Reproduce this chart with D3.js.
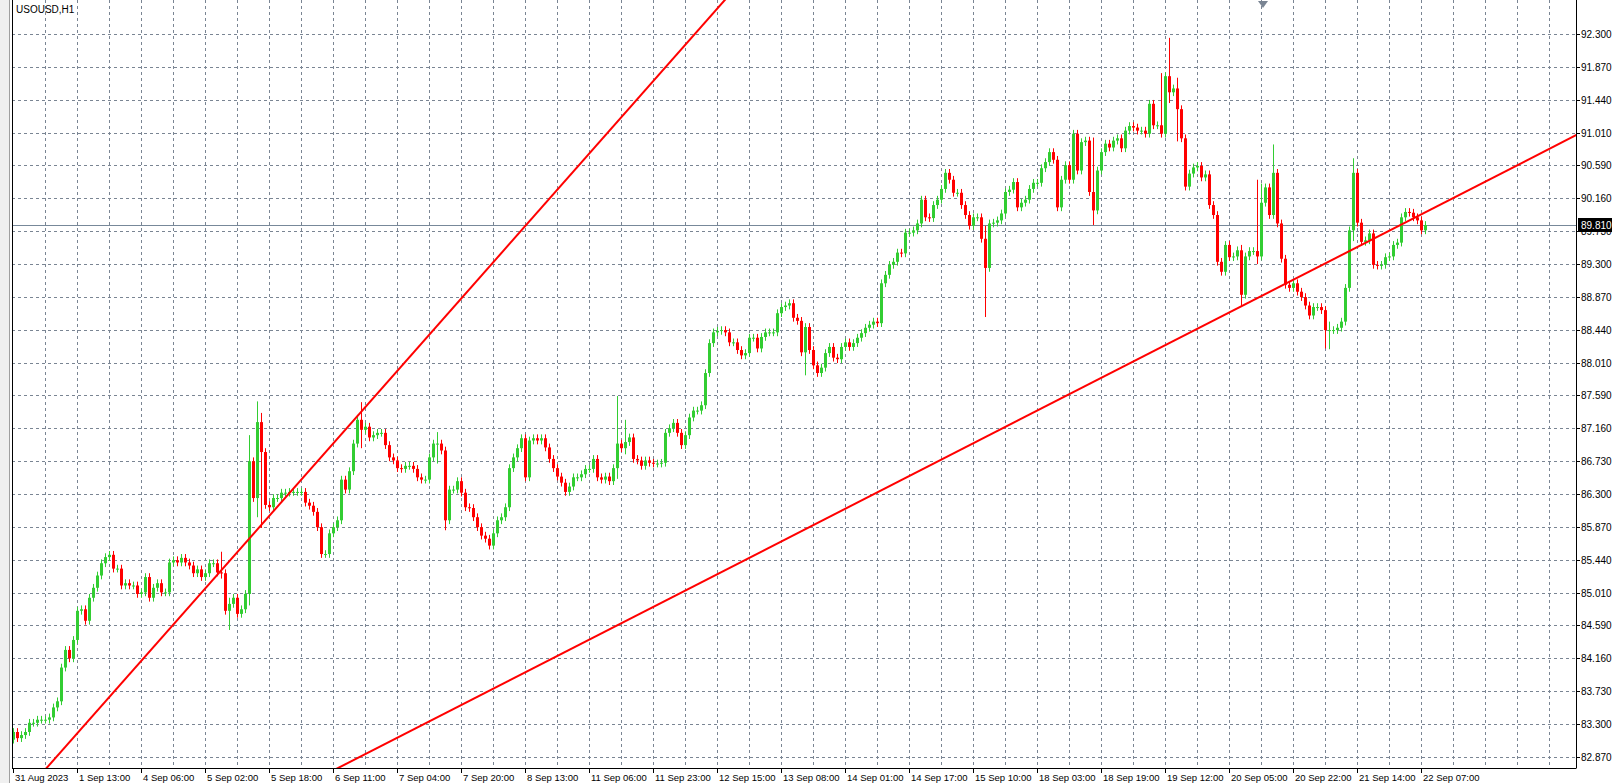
<!DOCTYPE html>
<html>
<head>
<meta charset="utf-8">
<script src="https://cdn.jsdelivr.net/npm/d3@7"></script>
<style>
  body { margin: 0; background: #fff; }
  svg text { font-family: "Liberation Sans", Arial, sans-serif; font-size: 10px; fill: #000; }
</style>
</head>
<body>
<svg id="chart" width="1613" height="783"></svg>
<script>
// hourly closes USOUSD H1 (open = previous close)
var closes = [
 83.20,83.12,83.16,83.20,83.32,83.32,83.36,83.36,83.36,83.39,
 83.52,83.60,84.04,84.27,84.16,84.40,84.78,84.80,84.65,84.95,
 85.08,85.24,85.40,85.48,85.51,85.33,85.33,85.11,85.14,85.11,
 85.11,85.00,85.02,85.22,84.95,85.08,85.14,85.02,85.02,85.41,
 85.44,85.41,85.47,85.41,85.37,85.27,85.32,85.22,85.27,85.40,
 85.40,85.28,85.27,84.78,84.87,84.95,84.74,84.80,85.00,86.73,
 86.25,87.24,86.85,86.16,86.13,86.25,86.25,86.32,86.32,86.33,
 86.33,86.33,86.33,86.19,86.15,86.07,85.87,85.52,85.52,85.79,
 85.87,85.96,86.49,86.36,86.60,86.96,87.27,87.14,87.18,87.04,
 87.07,87.10,87.10,86.94,86.78,86.74,86.64,86.63,86.67,86.67,
 86.63,86.52,86.49,86.49,86.78,86.96,86.96,86.87,85.96,86.36,
 86.36,86.47,
 86.32,86.13,86.12,86.00,85.87,85.76,85.72,85.63,85.79,85.96,
 86.00,86.13,86.64,86.78,86.90,87.03,86.52,87.00,87.03,87.00,
 87.03,86.91,86.76,86.64,86.53,86.45,86.33,86.40,86.52,86.52,
 86.56,86.63,86.63,86.76,86.52,86.49,86.53,86.47,86.64,86.96,
 86.90,86.98,87.04,86.76,86.74,86.67,86.74,86.71,86.70,86.70,
 86.71,87.10,87.16,87.23,87.10,86.94,87.07,87.30,87.39,87.39,
 87.46,87.88,88.27,88.41,88.43,88.44,88.41,88.28,88.28,88.18,
 88.11,88.14,88.34,88.34,88.20,88.35,88.41,88.41,88.41,88.66,
 88.74,88.76,88.79,88.60,88.56,88.15,88.48,88.18,87.98,87.88,
 87.95,88.14,88.22,88.08,88.06,88.22,88.28,88.22,88.27,88.34,
 88.40,88.47,88.51,88.55,88.53,
 89.05,89.16,89.29,89.33,89.45,89.44,89.71,89.71,89.74,89.83,
 90.14,89.91,89.90,90.07,90.14,90.28,90.49,90.40,90.23,90.23,
 90.07,89.94,89.80,89.91,89.91,89.63,89.25,89.83,89.84,89.87,
 89.96,90.24,90.27,90.37,90.04,90.10,90.14,90.28,90.36,90.36,
 90.55,90.63,90.76,90.66,90.04,90.40,90.59,90.40,91.00,90.52,
 90.89,90.91,90.24,90.00,90.52,90.76,90.87,90.82,90.91,90.94,
 90.81,91.04,91.10,91.08,91.04,91.04,91.00,91.39,91.11,91.11,
 91.00,91.75,91.54,91.59,91.32,90.94,90.31,90.48,90.56,90.58,
 90.43,90.47,90.07,89.94,89.33,89.20,89.55,89.39,89.40,89.48,
 88.90,89.40,89.47,89.47,89.40,90.10,90.30,89.94,90.49,89.83,
 89.37,89.03,88.99,89.05,88.94,88.87,88.76,88.63,88.74,88.74,
 88.70,88.44,88.44,88.44,88.47,88.55,88.99,89.74,90.49,89.84,
 89.59,89.61,89.70,89.29,89.28,89.29,89.39,89.40,89.55,89.58,
 89.91,89.98,89.97,89.91,89.87,89.74,89.81
];
var firstOpen = 83.10;
var wickSize = 0.05;
// bars with long shadows: index -> [high, low]
var longWicks = {
  52: [85.55, 85.20], 54: [84.95, 84.53], 59: [87.07, 84.85], 61: [87.51, 86.00],
  62: [87.36, 85.86], 87: [87.50, 86.90], 106: [87.11, 86.70], 108: [86.40, 85.83],
  151: [87.58, 86.50], 153: [87.27, 86.82], 198: [88.20, 87.85], 243: [89.80, 88.61],
  270: [90.95, 89.81], 287: [91.79, 91.00], 289: [92.25, 91.40], 291: [91.73, 90.90],
  307: [89.55, 88.75], 311: [90.40, 89.30], 312: [90.35, 89.35], 315: [90.86, 89.90],
  328: [88.60, 88.20], 329: [88.55, 88.19], 335: [90.68, 89.60]
};
var timeLabels = ["31 Aug 2023","1 Sep 13:00","4 Sep 06:00","5 Sep 02:00","5 Sep 18:00",
  "6 Sep 11:00","7 Sep 04:00","7 Sep 20:00","8 Sep 13:00","11 Sep 06:00","11 Sep 23:00",
  "12 Sep 15:00","13 Sep 08:00","14 Sep 01:00","14 Sep 17:00","15 Sep 10:00","18 Sep 03:00",
  "18 Sep 19:00","19 Sep 12:00","20 Sep 05:00","20 Sep 22:00","21 Sep 14:00","22 Sep 07:00"];
var priceTicks = [82.870,83.300,83.730,84.160,84.590,85.010,85.440,85.870,86.300,86.730,
  87.160,87.590,88.010,88.440,88.870,89.300,89.730,90.160,90.590,91.010,91.440,91.870,92.300];
var bidPrice = 89.810;
// trend lines as [bar index, price] pairs
var trend1 = [[9.75, 82.81], [120.5, 89.35]];
var trend2 = [[84.25, 82.81], [390.75, 90.98]];

var plotLeft = 12, plotRight = 1576, plotTop = 0, plotBottom = 768;
var svg = d3.select("#chart");
var x = d3.scaleLinear().domain([0, closes.length - 1]).range([13, 13 + 4 * (closes.length - 1)]);
var y = d3.scaleLinear().domain([92.3, 82.87]).range([34, 757.3]);

svg.append("rect").attr("x", 0).attr("y", 0).attr("width", 9).attr("height", 783).attr("fill", "#f0f0f0");
svg.append("line").attr("x1", 9.5).attr("x2", 9.5).attr("y1", 0).attr("y2", 783).attr("stroke", "#a0a0a0");

svg.append("defs").append("clipPath").attr("id", "clip")
  .append("rect").attr("x", plotLeft).attr("y", plotTop)
  .attr("width", plotRight - plotLeft).attr("height", plotBottom - plotTop);
var plot = svg.append("g").attr("clip-path", "url(#clip)");

// grid
var grid = plot.append("g").attr("stroke", "#7a8593").attr("stroke-dasharray", "3,3").attr("stroke-width", 1);
priceTicks.forEach(function (p) {
  var yy = Math.round(y(p)) + 0.5;
  grid.append("line").attr("x1", plotLeft).attr("x2", plotRight).attr("y1", yy).attr("y2", yy);
});
for (var gx = 13 + 32; gx < plotRight; gx += 32) {
  grid.append("line").attr("x1", gx + 0.5).attr("x2", gx + 0.5).attr("y1", plotTop).attr("y2", plotBottom);
}

// bid line
plot.append("line").attr("x1", plotLeft).attr("x2", plotRight)
  .attr("y1", Math.round(y(bidPrice)) + 0.5).attr("y2", Math.round(y(bidPrice)) + 0.5)
  .attr("stroke", "#778899").attr("stroke-width", 1);

// candles
var bars = closes.map(function (c, i) {
  var o = i === 0 ? firstOpen : closes[i - 1];
  var hi = Math.max(o, c) + wickSize, lo = Math.min(o, c) - wickSize;
  if (longWicks[i]) { hi = Math.max(hi, longWicks[i][0]); lo = Math.min(lo, longWicks[i][1]); }
  return { i: i, o: o, c: c, h: hi, l: lo };
});
var cg = plot.append("g");
cg.selectAll("line.wick").data(bars).enter().append("line")
  .attr("x1", function (d) { return Math.round(x(d.i)) + 0.5; })
  .attr("x2", function (d) { return Math.round(x(d.i)) + 0.5; })
  .attr("y1", function (d) { return y(d.h); })
  .attr("y2", function (d) { return y(d.l); })
  .attr("stroke", function (d) { return d.c >= d.o ? "#32cd32" : "#ff0000"; });
cg.selectAll("rect.body").data(bars).enter().append("rect")
  .attr("x", function (d) { return Math.round(x(d.i)) - 1; })
  .attr("width", 3)
  .attr("y", function (d) { return y(Math.max(d.o, d.c)); })
  .attr("height", function (d) { return Math.max(1, Math.abs(y(d.o) - y(d.c))); })
  .attr("fill", function (d) { return d.c >= d.o ? "#32cd32" : "#ff0000"; });

// trend lines, extended across the window
function extend(t) {
  var k = (t[1][1] - t[0][1]) / (t[1][0] - t[0][0]);
  var a = -20, b = 420;
  return [[a, t[0][1] + k * (a - t[0][0])], [b, t[0][1] + k * (b - t[0][0])]];
}
[trend1, trend2].forEach(function (t) {
  var e = extend(t);
  plot.append("line")
    .attr("x1", x(e[0][0])).attr("y1", y(e[0][1]))
    .attr("x2", x(e[1][0])).attr("y2", y(e[1][1]))
    .attr("stroke", "#ff0000").attr("stroke-width", 2);
});

// frame
svg.append("line").attr("x1", plotLeft + 0.5).attr("x2", plotLeft + 0.5).attr("y1", 0).attr("y2", plotBottom).attr("stroke", "#000");
svg.append("line").attr("x1", plotRight + 0.5).attr("x2", plotRight + 0.5).attr("y1", 0).attr("y2", plotBottom + 0.5).attr("stroke", "#000");
svg.append("line").attr("x1", plotLeft).attr("x2", plotRight).attr("y1", plotBottom + 0.5).attr("y2", plotBottom + 0.5).attr("stroke", "#000");

// price axis
var ya = svg.append("g");
priceTicks.forEach(function (p) {
  var yy = Math.min(Math.round(y(p)), 762);
  ya.append("line").attr("x1", plotRight).attr("x2", plotRight + 4).attr("y1", yy + 0.5).attr("y2", yy + 0.5).attr("stroke", "#000");
  ya.append("text").attr("x", plotRight + 5).attr("y", yy + 4).text(p.toFixed(3));
});
var by = Math.round(y(bidPrice));
ya.append("rect").attr("x", plotRight + 2).attr("y", by - 7).attr("width", 34).attr("height", 14).attr("fill", "#000");
ya.append("text").attr("x", plotRight + 5).attr("y", by + 4).attr("style", "fill:#fff").text(bidPrice.toFixed(3));

// time axis
var xa = svg.append("g");
timeLabels.forEach(function (t, k) {
  var tx = Math.round(x(k * 16));
  xa.append("line").attr("x1", tx + 0.5).attr("x2", tx + 0.5).attr("y1", plotBottom).attr("y2", plotBottom + 5).attr("stroke", "#000");
  xa.append("text").attr("x", tx + 2).attr("y", plotBottom + 13).attr("style", "font-size:9.5px").text(t);
});

// title and shift marker
svg.append("text").attr("x", 16).attr("y", 13).text("USOUSD,H1");
svg.append("path").attr("d", "M1258,1 L1268,1 L1263,8 Z").attr("fill", "#7a8593");
</script>
</body>
</html>
